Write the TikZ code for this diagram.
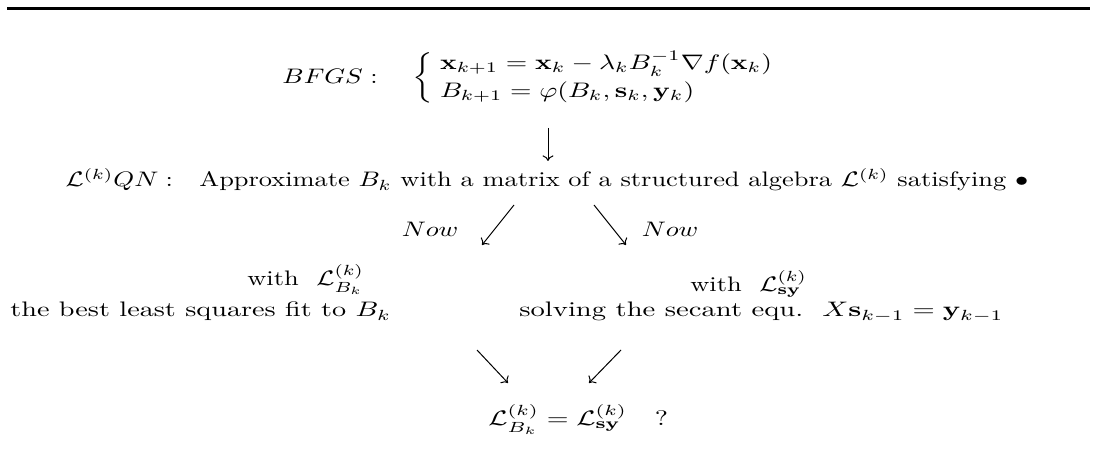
\documentclass[tikz,border=0pt]{standalone}
\usepackage{amsmath,amssymb,graphicx}
\usetikzlibrary{arrows.meta}
\newcommand{\sx}[2]{\scalebox{#1}[1.05]{#2}}
\begin{document}
\begin{tikzpicture}[x=0.5pt,y=-0.5pt,
  txt/.style={inner sep=0pt,font=\fontsize{10}{12}\selectfont},
  arr/.style={line width=0.5pt,-{Computer Modern Rightarrow[width=5.5pt,length=2.8pt]}}]
\useasboundingbox (0,0) rectangle (1097,453);
% top rule
\coordinate (r1) at (7,8.5);
\coordinate (r2) at (1090,8.5);
\draw[line width=1.1pt] (r1) -- (r2);
% BFGS
\node[txt,anchor=base east] (bfgs) at (378,84) {\sx{1.32}{$BFGS:$}};
\node[txt,anchor=west] (sys) at (412,78) {\sx{1.38}{$\left\{\begin{array}{@{\hspace{2.5pt}}l}\mathbf{x}_{k+1}=\mathbf{x}_k-\lambda_k B_k^{-1}\nabla f(\mathbf{x}_k)\\[1pt] B_{k+1}=\varphi(B_k,\mathbf{s}_k,\mathbf{y}_k)\end{array}\right.$}};
\coordinate (d1) at (548,128);
\coordinate (d2) at (548,161);
\draw[arr] (d1) -- (d2);
% L(k)QN line
\node[txt,anchor=base] (lqn) at (547,187) {\sx{1.32}{$\mathcal{L}^{(k)}QN:$\quad Approximate $B_k$ with a matrix of a structured algebra $\mathcal{L}^{(k)}$ satisfying $\bullet$}};
% Now arrows
\node[txt,anchor=base] (nowl) at (430,237) {\sx{1.32}{$Now$}};
\node[txt,anchor=base] (nowr) at (670,237) {\sx{1.32}{$Now$}};
\coordinate (a1s) at (514,205);
\coordinate (a1e) at (482,245);
\coordinate (a2s) at (594,205);
\coordinate (a2e) at (626,245);
\draw[arr] (a1s) -- (a1e);
\draw[arr] (a2s) -- (a2e);
% left block
\node[txt,anchor=base west] (withl) at (247,286) {\sx{1.32}{with\ \ $\mathcal{L}^{(k)}_{B_k}$}};
\node[txt,anchor=base west] (fitl) at (10,317) {\sx{1.41}{the best least squares fit to $B_k$}};
% right block
\node[txt,anchor=base west] (withr) at (690,292) {\sx{1.32}{with\ \ $\mathcal{L}^{(k)}_{\mathbf{sy}}$}};
\node[txt,anchor=base west] (secr) at (519,317) {\sx{1.43}{solving the secant equ.\ \ $X\mathbf{s}_{k-1}=\mathbf{y}_{k-1}$}};
% lower arrows
\coordinate (b1s) at (477,350);
\coordinate (b1e) at (508,383);
\coordinate (b2s) at (621,350);
\coordinate (b2e) at (589,383);
\draw[arr] (b1s) -- (b1e);
\draw[arr] (b2s) -- (b2e);
% result
\node[txt,anchor=base west] (res) at (488,426) {\sx{1.4}{$\mathcal{L}^{(k)}_{B_k}=\mathcal{L}^{(k)}_{\mathbf{sy}}\quad ?$}};
\end{tikzpicture}
\end{document}
